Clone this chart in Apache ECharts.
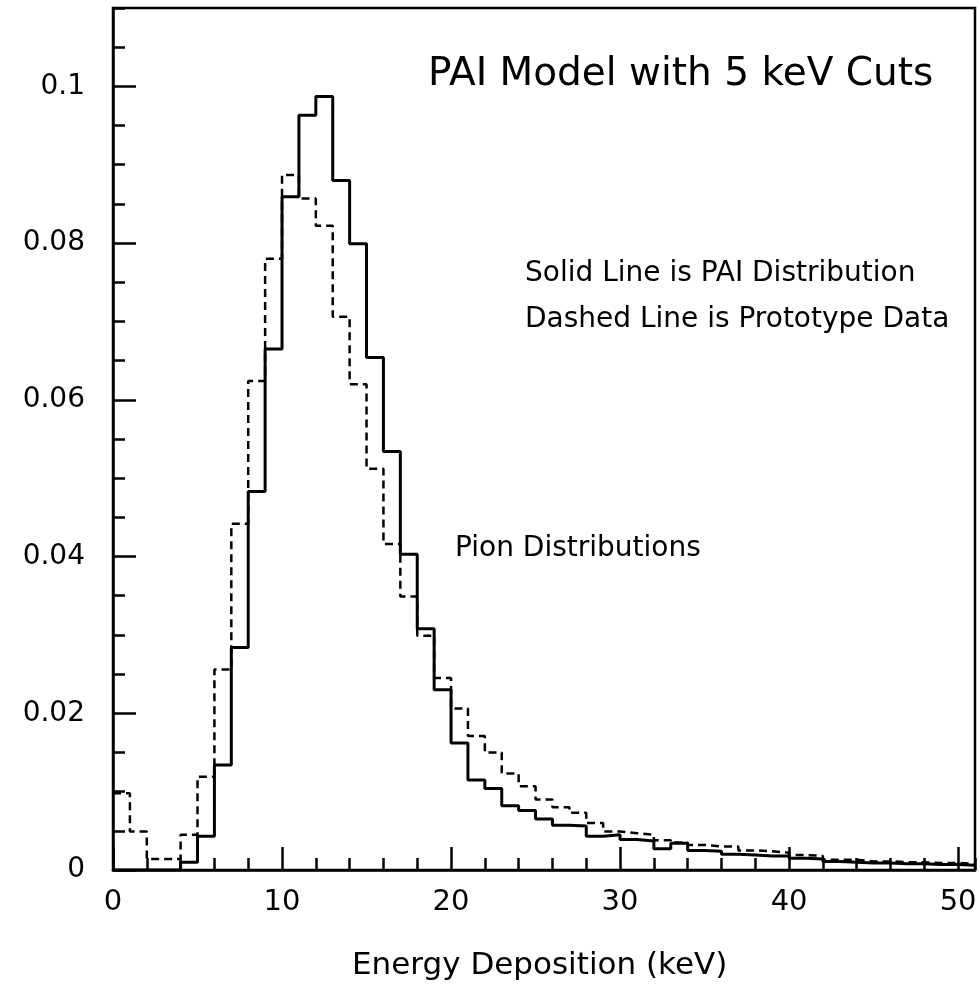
<!DOCTYPE html>
<html>
<head>
<meta charset="utf-8">
<script src="https://cdn.jsdelivr.net/npm/echarts@6/dist/echarts.min.js"></script>
<style>
html,body{margin:0;padding:0;background:#fff}
#chart{width:980px;height:998px}
</style>
</head>
<body>
<div id="chart"></div>
<script>
// lower edge of each 1 keV bin
const binEdges = [0,1,2,3,4,5,6,7,8,9,10,11,12,13,14,15,16,17,18,19,20,
  21,22,23,24,25,26,27,28,29,30,31,32,33,34,35,36,37,38,39,40,
  41,42,43,44,45,46,47,48,49,50]
const lastEdge = 51

// solid line: PAI distribution
const paiValues = [0,0,0,0,0.001,0.0043,0.0134,0.0284,0.0483,0.0665,
  0.0859,0.0963,0.0987,0.088,0.0799,0.0654,0.0534,0.0403,0.0308,0.023,
  0.0162,0.0115,0.0104,0.0082,0.0076,0.0065,0.0057,0.0056,0.0043,0.0045,
  0.0039,0.0037,0.0027,0.0034,0.0025,0.0024,0.002,0.0019,0.0018,0.0018,
  0.0015,0.0014,0.0011,0.001,0.0009,0.0009,0.0008,0.0008,0.0007,0.0007,0.0006]

// dashed line: prototype data
const protoValues = [0.0098,0.0049,0.0014,0.0014,0.0045,0.0119,0.0256,0.0442,0.0624,0.078,
  0.0887,0.0857,0.0822,0.0706,0.062,0.0512,0.0416,0.0349,0.0299,0.0245,
  0.0206,0.0171,0.015,0.0123,0.0107,0.009,0.008,0.0073,0.006,0.0049,
  0.0047,0.0045,0.0038,0.0035,0.0032,0.003,0.003,0.0025,0.0024,0.0022,
  0.0019,0.0018,0.0013,0.0013,0.0011,0.0011,0.001,0.001,0.0009,0.0009,0.0008]

const xTickLabels = [0,10,20,30,40,50]
const yTickLabels = [0,0.02,0.04,0.06,0.08,0.1]

function steps(vals){
  var pts = binEdges.map(function(e,i){ return [e, vals[i]] })
  pts.push([lastEdge, vals[vals.length-1]])
  return pts
}

var black = '#000'
var labelFont = 'DejaVu Sans'

var myChart = echarts.init(document.getElementById('chart'))
var option = {
  animation: false,
  backgroundColor: '#fff',
  grid: {
    left: 113, right: 5, top: 8, bottom: 128,
    show: true, borderColor: black, borderWidth: 2.5
  },
  xAxis: [
    {
      type: 'value', position: 'bottom', min: 0, max: lastEdge, interval: 10,
      axisLine: {lineStyle: {color: black, width: 2.5}},
      axisTick: {inside: true, length: 23, lineStyle: {color: black, width: 2.5}},
      axisLabel: {
        showMaxLabel: false, color: black, fontSize: 29, fontFamily: labelFont, margin: 18,
        formatter: function(v){ return xTickLabels.indexOf(v) >= 0 ? String(v) : '' }
      },
      splitLine: {show: false}
    },
    {
      type: 'value', position: 'bottom', min: 0, max: lastEdge, interval: 2,
      axisLine: {show: false},
      axisTick: {inside: true, length: 12, lineStyle: {color: black, width: 2.5}},
      axisLabel: {show: false},
      splitLine: {show: false}
    }
  ],
  yAxis: [
    {
      type: 'value', position: 'left', min: 0, max: 0.11, interval: 0.02,
      axisLine: {show: true, lineStyle: {color: black, width: 2.5}},
      axisTick: {show: true, inside: true, length: 23, lineStyle: {color: black, width: 2.5}},
      axisLabel: {
        showMaxLabel: false, color: black, fontSize: 28, fontFamily: labelFont, margin: 28,
        formatter: function(v){
          for (var i = 0; i < yTickLabels.length; i++) {
            if (Math.abs(yTickLabels[i] - v) < 1e-9) return String(yTickLabels[i])
          }
          return ''
        }
      },
      splitLine: {show: false}
    },
    {
      type: 'value', position: 'left', min: 0, max: 0.11, interval: 0.005,
      axisLine: {show: false},
      axisTick: {show: true, inside: true, length: 12, lineStyle: {color: black, width: 2.5}},
      axisLabel: {show: false},
      splitLine: {show: false}
    }
  ],
  graphic: [
    {type: 'text', left: 428, top: 55, style: {text: 'PAI Model with 5 keV Cuts', font: '39px "DejaVu Sans"', fill: black}},
    {type: 'text', left: 525, top: 260, style: {text: 'Solid Line is PAI Distribution', font: '28px "DejaVu Sans"', fill: black}},
    {type: 'text', left: 525, top: 306, style: {text: 'Dashed Line is Prototype Data', font: '28px "DejaVu Sans"', fill: black}},
    {type: 'text', left: 455, top: 535, style: {text: 'Pion Distributions', font: '28px "DejaVu Sans"', fill: black}},
    // axis title
    {type: 'text', left: 352, top: 950, style: {text: 'Energy Deposition (keV)', font: '31px "DejaVu Sans"', fill: black}}
  ],
  series: [
    {
      name: 'PAI', type: 'line', step: 'end', data: steps(paiValues),
      xAxisIndex: 0, yAxisIndex: 0, symbol: 'none', z: 3,
      lineStyle: {color: black, width: 3}
    },
    {
      name: 'Prototype', type: 'line', step: 'end', data: steps(protoValues),
      xAxisIndex: 0, yAxisIndex: 0, symbol: 'none', z: 2,
      lineStyle: {color: black, width: 2.5, type: [8, 5]}
    }
  ]
}
option && myChart.setOption(option)
</script>
</body>
</html>
